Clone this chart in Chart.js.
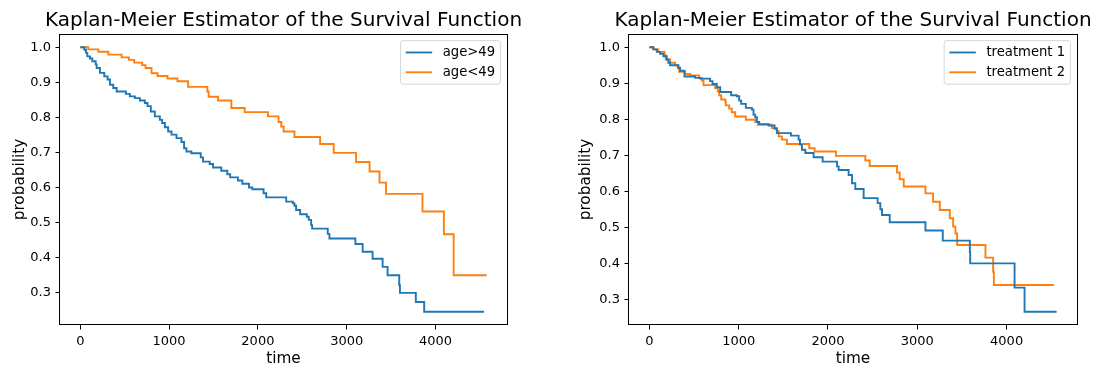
<!DOCTYPE html>
<html>
<head>
<meta charset="utf-8">
<script src="https://cdn.jsdelivr.net/npm/chart.js@4.4.1/dist/chart.umd.min.js"></script>
<style>
  html, body { margin: 0; padding: 0; background: #fff; }
  #wrap { position: relative; width: 1093px; height: 370px; }
  canvas { position: absolute; top: 0; }
  #ageChart { left: 0; }
  #treatChart { left: 546px; }
</style>
</head>
<body>
<div id="wrap">
  <canvas id="ageChart" width="546" height="370"></canvas>
  <canvas id="treatChart" width="547" height="370"></canvas>
</div>
<script>
// --- 1. DATA ---
const ageOldTime = [0, 45, 64, 79, 109, 135, 173, 184, 221, 270, 307, 334, 371, 409, 513, 558, 615, 671, 727, 757,
  794, 839, 896, 922, 952, 989, 1027, 1083, 1139, 1169, 1195, 1251, 1356, 1382, 1457, 1495, 1588, 1655, 1688, 1775,
  1825, 1900, 1937, 2064, 2094, 2319, 2394, 2412, 2431, 2476, 2551, 2573, 2600, 2611, 2787, 2806, 3098, 3180, 3292, 3405,
  3461, 3592, 3600, 3779, 3873, 4547];
const ageOldSurv = [1.0, 0.993, 0.984, 0.974, 0.968, 0.960, 0.951, 0.941, 0.927, 0.917, 0.908, 0.893, 0.884, 0.874, 0.867, 0.860, 0.855, 0.848, 0.841, 0.832,
  0.817, 0.803, 0.793, 0.784, 0.772, 0.760, 0.751, 0.741, 0.730, 0.712, 0.703, 0.698, 0.686, 0.674, 0.667, 0.657, 0.648, 0.638, 0.629, 0.620,
  0.611, 0.600, 0.595, 0.584, 0.572, 0.560, 0.555, 0.548, 0.536, 0.524, 0.517, 0.508, 0.493, 0.483, 0.468, 0.455, 0.439, 0.417, 0.397, 0.374,
  0.350, 0.322, 0.300, 0.274, 0.246, 0.246];

const ageYoungTime = [0, 90, 202, 315, 465, 547, 607, 697, 735, 802, 870, 982, 1094, 1214, 1431, 1445, 1551, 1701, 1851, 2113,
  2233, 2263, 2290, 2412, 2701, 2854, 3106, 3258, 3370, 3443, 3854, 4095, 4205, 4577];
const ageYoungSurv = [1.0, 0.994, 0.987, 0.979, 0.971, 0.964, 0.956, 0.949, 0.941, 0.926, 0.918, 0.911, 0.903, 0.887, 0.874, 0.859, 0.848, 0.827, 0.815, 0.803,
  0.787, 0.774, 0.760, 0.744, 0.724, 0.699, 0.673, 0.646, 0.614, 0.582, 0.532, 0.467, 0.350, 0.350];

const treat1Time = [0, 45, 83, 120, 157, 195, 213, 232, 325, 344, 393, 512, 568, 680, 707, 755, 793, 916, 979, 1006,
  1028, 1080, 1148, 1166, 1185, 1204, 1230, 1334, 1402, 1428, 1585, 1671, 1686, 1708, 1746, 1839, 1940, 2101, 2119, 2231,
  2269, 2306, 2399, 2556, 2586, 2605, 2691, 3091, 3285, 3588, 3592, 4089, 4201, 4560];
const treat1Surv = [1.0, 0.994, 0.987, 0.982, 0.975, 0.966, 0.957, 0.950, 0.943, 0.935, 0.919, 0.915, 0.913, 0.906, 0.898, 0.889, 0.876, 0.867, 0.864, 0.852,
  0.843, 0.832, 0.827, 0.813, 0.806, 0.793, 0.787, 0.783, 0.774, 0.762, 0.755, 0.744, 0.730, 0.716, 0.707, 0.695, 0.683, 0.670, 0.660, 0.646,
  0.623, 0.607, 0.582, 0.568, 0.551, 0.535, 0.515, 0.492, 0.464, 0.433, 0.401, 0.334, 0.267, 0.267];

const treat2Time = [0, 45, 101, 169, 183, 232, 288, 318, 333, 400, 456, 557, 587, 606, 737, 766, 781, 804, 849, 856,
  894, 923, 961, 1080, 1185, 1215, 1372, 1428, 1447, 1484, 1540, 1790, 1850, 2089, 2418, 2467, 2773, 2803, 2848, 3091,
  3177, 3252, 3364, 3401, 3427, 3446, 3763, 3849, 3857, 4529];
const treat2Surv = [1.0, 0.994, 0.987, 0.978, 0.966, 0.957, 0.950, 0.943, 0.932, 0.926, 0.922, 0.915, 0.908, 0.895, 0.887, 0.878, 0.867, 0.855, 0.850, 0.839,
  0.830, 0.820, 0.808, 0.799, 0.793, 0.785, 0.776, 0.767, 0.753, 0.744, 0.732, 0.720, 0.711, 0.699, 0.686, 0.671, 0.653, 0.634, 0.614, 0.595,
  0.572, 0.549, 0.526, 0.503, 0.484, 0.452, 0.417, 0.378, 0.341, 0.341];

const xTickValues = [0, 1000, 2000, 3000, 4000];
const yTickValues = [0.3, 0.4, 0.5, 0.6, 0.7, 0.8, 0.9, 1.0];

const chartTitle = 'Kaplan-Meier Estimator of the Survival Function';
const BLUE = '#1f77b4';
const ORANGE = '#ff7f0e';

Chart.defaults.font.family = '"DejaVu Sans", sans-serif';
Chart.defaults.color = '#000';

// --- 2. HELPERS ---
// matplotlib style autoscale: 5% margin on each side
function padded(arrays) {
  const all = [].concat(...arrays);
  const lo = Math.min(...all), hi = Math.max(...all);
  const m = (hi - lo) * 0.05;
  return [lo - m, hi + m];
}

function toPoints(times, surv) {
  return times.map((t, i) => ({ x: t, y: surv[i] }));
}

// box around the axes (all four spines)
const framePlugin = {
  id: 'frame',
  afterDraw(chart) {
    const a = chart.chartArea, ctx = chart.ctx;
    ctx.save();
    ctx.strokeStyle = '#000';
    ctx.lineWidth = 1;
    ctx.strokeRect(Math.round(a.left) - 0.5, Math.round(a.top) + 0.5,
      Math.round(a.right - a.left) + 1, Math.round(a.bottom - a.top) - 1);
    ctx.restore();
  }
};

// title centred over the axes (not over the whole canvas)
const axesTitlePlugin = {
  id: 'axesTitle',
  afterDraw(chart, args, opts) {
    const a = chart.chartArea, ctx = chart.ctx;
    ctx.save();
    ctx.font = '20px "DejaVu Sans"';
    ctx.fillStyle = '#000';
    ctx.textAlign = 'center';
    ctx.textBaseline = 'alphabetic';
    ctx.fillText(opts.text, (a.left + a.right) / 2, a.top - 7.8);
    ctx.restore();
  }
};

// legend drawn inside the upper right corner like matplotlib
const boxLegendPlugin = {
  id: 'boxLegend',
  afterDraw(chart) {
    const a = chart.chartArea, ctx = chart.ctx;
    const fs = 13.2;
    const sets = chart.data.datasets;
    ctx.save();
    ctx.font = fs + 'px "DejaVu Sans"';
    const textW = Math.max(...sets.map(d => ctx.measureText(d.label).width));
    const pad = 0.4 * fs, handle = 2 * fs, gap = 0.8 * fs, rowH = fs, space = 0.5 * fs;
    const w = pad * 2 + handle + gap + textW;
    const h = pad * 2 + sets.length * rowH + (sets.length - 1) * space;
    const x = a.right - 0.5 * fs - w, y = a.top + 0.5 * fs;

    ctx.beginPath();
    ctx.roundRect(x, y, w, h, 0.2 * fs);
    ctx.fillStyle = 'rgba(255,255,255,0.8)';
    ctx.fill();
    ctx.strokeStyle = 'rgba(204,204,204,0.8)';
    ctx.lineWidth = 1;
    ctx.stroke();

    sets.forEach((d, i) => {
      const cy = y + pad + rowH / 2 + i * (rowH + space);
      ctx.strokeStyle = d.borderColor;
      ctx.lineWidth = d.borderWidth;
      ctx.beginPath();
      ctx.moveTo(x + pad, cy);
      ctx.lineTo(x + pad + handle, cy);
      ctx.stroke();
      ctx.fillStyle = '#000';
      ctx.textAlign = 'left';
      ctx.textBaseline = 'middle';
      ctx.fillText(d.label, x + pad + handle + gap, cy);
    });
    ctx.restore();
  }
};

// --- 3. CHART BUILDER ---
function makeKMChart(canvasId, series, lay) {
  const xr = padded(series.map(s => s.time));
  const yr = padded(series.map(s => s.surv));

  return new Chart(document.getElementById(canvasId), {
    type: 'line',
    data: {
      datasets: series.map(s => ({
        label: s.label,
        data: toPoints(s.time, s.surv),
        borderColor: s.color,
        backgroundColor: s.color,
        borderWidth: 1.9,
        stepped: 'before',
        pointRadius: 0,
        fill: false
      }))
    },
    options: {
      responsive: false,
      animation: false,
      devicePixelRatio: 1,
      layout: { padding: { left: lay.padLeft, right: lay.padRight, top: 34, bottom: 0 } },
      scales: {
        x: {
          type: 'linear',
          min: xr[0],
          max: xr[1],
          afterBuildTicks: s => { s.ticks = xTickValues.map(v => ({ value: v })); },
          afterFit: s => { s.height = 45; },
          ticks: { callback: v => String(v), font: { size: 13 }, padding: 4.5, maxRotation: 0, autoSkip: false, color: '#000' },
          grid: { drawOnChartArea: false, drawTicks: true, tickLength: 4.5, tickColor: '#000', tickWidth: 1 },
          border: { display: false },
          title: { display: true, text: 'time', font: { size: 15.3 }, color: '#000', padding: { top: 0, bottom: 2 } }
        },
        y: {
          type: 'linear',
          min: yr[0],
          max: yr[1],
          afterBuildTicks: s => { s.ticks = yTickValues.map(v => ({ value: v })); },
          afterFit: s => { s.width = lay.yWidth; },
          ticks: { callback: v => v.toFixed(1), font: { size: 13 }, padding: 4.5, color: '#000' },
          grid: { drawOnChartArea: false, drawTicks: true, tickLength: 4.5, tickColor: '#000', tickWidth: 1 },
          border: { display: false },
          title: { display: true, text: 'probability', font: { size: 15.3 }, color: '#000', padding: { top: 11, bottom: 0 } }
        }
      },
      plugins: {
        legend: { display: false },
        tooltip: { enabled: false },
        title: { display: false },
        axesTitle: { text: chartTitle }
      }
    },
    plugins: [framePlugin, axesTitlePlugin, boxLegendPlugin]
  });
}

// --- 4. INIT ---
makeKMChart('ageChart', [
  { label: 'age>49', time: ageOldTime, surv: ageOldSurv, color: BLUE },
  { label: 'age<49', time: ageYoungTime, surv: ageYoungSurv, color: ORANGE }
], { padLeft: 0, padRight: 39, yWidth: 60 });

makeKMChart('treatChart', [
  { label: 'treatment 1', time: treat1Time, surv: treat1Surv, color: BLUE },
  { label: 'treatment 2', time: treat2Time, surv: treat2Surv, color: ORANGE }
], { padLeft: 20, padRight: 16, yWidth: 63 });
</script>
</body>
</html>
